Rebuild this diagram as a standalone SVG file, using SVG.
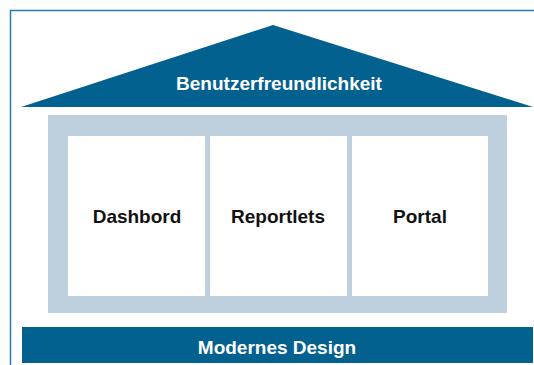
<svg xmlns="http://www.w3.org/2000/svg" width="534" height="365" viewBox="0 0 534 365">
<style>
.dark{fill:#03618f}
.light{fill:#bed0de}
.box{fill:#ffffff}
.wt{font-family:"Liberation Sans",Arial,sans-serif;font-weight:bold;font-size:19px;fill:#ffffff;text-anchor:middle}
.bt{font-family:"Liberation Sans",Arial,sans-serif;font-weight:bold;font-size:19px;fill:#111111;text-anchor:middle}
</style>
<rect x="0" y="0" width="534" height="365" fill="#ffffff"/>
<g id="frame-border" fill="none" stroke="#2a78b0" stroke-width="1.5">
<path d="M10.5 365 V10.5 H534"/>
</g>
<g id="roof">
<polygon class="dark" points="21,107 273,25 533,107"/>
<text class="wt" x="279" y="90">Benutzerfreundlichkeit</text>
</g>
<g id="frame">
<rect class="light" x="48" y="115" width="459" height="198"/>
</g>
<g id="dashbord">
<rect class="box" x="68" y="136" width="137" height="160"/>
<text class="bt" x="137" y="223">Dashbord</text>
</g>
<g id="reportlets">
<rect class="box" x="210" y="136" width="137" height="160"/>
<text class="bt" x="278" y="223">Reportlets</text>
</g>
<g id="portal">
<rect class="box" x="352" y="136" width="136" height="160"/>
<text class="bt" x="420" y="223">Portal</text>
</g>
<g id="base">
<rect class="dark" x="22" y="327" width="511" height="36"/>
<text class="wt" x="277" y="354">Modernes Design</text>
</g>
<g id="connectors"></g>
</svg>
